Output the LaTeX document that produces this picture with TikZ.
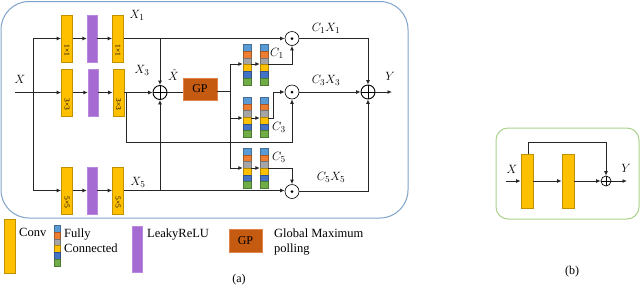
\documentclass[tikz,border=0pt]{standalone}
\usepackage{fontspec}
\setmainfont{Liberation Serif}
\usetikzlibrary{arrows.meta,calc}
\definecolor{convc}{HTML}{FFC000}
\definecolor{convd}{HTML}{BF9000}
\definecolor{purp}{HTML}{A66BD3}
\definecolor{gpc}{HTML}{C55A11}
\definecolor{gpd}{HTML}{E2844A}
\definecolor{fca}{HTML}{5B9BD5}
\definecolor{fcb}{HTML}{ED7D31}
\definecolor{fcc}{HTML}{A5A5A5}
\definecolor{fcd}{HTML}{FFC000}
\definecolor{fce}{HTML}{4472C4}
\definecolor{fcf}{HTML}{70AD47}
\definecolor{boxa}{HTML}{7FA3C8}
\definecolor{boxb}{HTML}{A9D18E}
\newcommand\FCbar[5]{% name, xcenter, ytop, seg height, width
  \foreach \c [count=\i from 0] in {fca,fcb,fcc,fcd,fce,fcf} {
    \filldraw[fill=\c, draw=\c!70!black, line width=0.4pt]
      (#2-#5/2,#3+\i*#4) rectangle ++(#5,#4);
  }
  \node[inner sep=0pt, minimum width=#5 pt, minimum height={6*#4 pt}, anchor=north] (#1) at (#2,#3) {};
}
\begin{document}
\begin{tikzpicture}[x=1pt,y=-1pt,
  convbox/.style={draw=convd, fill=convc, line width=0.6pt, minimum width=11pt, minimum height=47pt, inner sep=0pt},
  relubox/.style={draw=purp!80!white, fill=purp, line width=0.4pt, minimum width=10pt, minimum height=47pt, inner sep=0pt},
  gpbox/.style={draw=gpd, fill=gpc, line width=0.6pt, minimum width=34pt, minimum height=22pt, inner sep=0pt, font=\fontsize{12}{12}\selectfont},
  ln/.style={line width=0.9pt, draw=black!85},
  arr/.style={ln, -{Latex[length=4.5pt,width=4pt]}},
  oplus/.style={circle, draw=black, line width=0.9pt, minimum size=14pt, inner sep=0pt,
    path picture={\draw[black, line width=0.9pt] (path picture bounding box.north) -- (path picture bounding box.south)
      (path picture bounding box.west) -- (path picture bounding box.east);}},
  odot/.style={circle, draw=black, line width=0.6pt, fill=white, minimum size=14pt, inner sep=0pt,
    path picture={\fill[black] (path picture bounding box.center) circle (1.5pt);}},
  ksz/.style={rotate=-90, inner sep=0pt, font=\fontsize{7.5}{7.5}\selectfont},
  lab/.style={inner sep=0pt, font=\fontsize{13}{13}\selectfont},
  txt/.style={inner sep=0pt, anchor=west, align=left, font=\fontsize{12.5}{15}\selectfont}
]
\useasboundingbox (0,0) rectangle (640,285);
% ---------- (a) frame
\draw[boxa, line width=1pt, rounded corners=28pt] (1,1.5) rectangle (408,218);
% ---------- branches
\node[convbox] (k1a) at (67,38.5) {};
\node[relubox] (r1) at (92,38.5) {};
\node[convbox] (k1b) at (118,38.5) {};
\node[convbox] (k3a) at (67,92.5) {};
\node[relubox] (r3) at (93,92.5) {};
\node[convbox] (k3b) at (118.5,92.5) {};
\node[convbox] (k5a) at (67,190.5) {};
\node[relubox] (r5) at (92,190.5) {};
\node[convbox] (k5b) at (118,190.5) {};
\foreach \n/\t in {k1a/1×1,k1b/1×1,k3a/3×3,k3b/3×3,k5a/5×5,k5b/5×5}
  \node[ksz] at ($(\n.south)+(0,-12)$) {\t};
% input
\coordinate (xin) at (15,92.5);
\coordinate (sp1) at (33,38.5);
\coordinate (sp3) at (33,190.5);
\node[lab] at (20,79) {$X$};
\draw[arr] (xin) -- (k3a.west);
\draw[ln] (sp1) -- (sp3);
\draw[arr] (sp1) -- (k1a.west);
\draw[arr] (sp3) -- (k5a.west);
\foreach \a/\b in {k1a/r1,r1/k1b,k3a/r3,r3/k3b,k5a/r5,r5/k5b}
  \draw[arr] (\a) -- (\b);
\node[lab] at (137,15) {$X_1$};
\node[lab] at (142,70) {$X_3$};
\node[lab] at (138,182) {$X_5$};
% sum and GP
\node[oplus] (pl) at (160,92.5) {};
\node[lab] at (173.5,75) {$\hat{X}$};
\node[gpbox] (gp) at (200,89) {GP};
\draw[ln] (pl.east) -- (gp.west |- pl.east);
% circles
\node[odot] (m1) at (292,38.5) {};
\node[odot] (m3) at (292,92) {};
\node[odot] (m5) at (292,191.5) {};
\node[oplus] (fin) at (368,92) {};
% row outputs
\draw[arr] (k1b.east) -- (m1.west);
\draw[arr] (pl |- k1b.east) -- (pl.north);
\draw[arr] (k3b.east) -- (pl.west);
\coordinate (b3) at (126,92.5);
\coordinate (b3a) at (126,142);
\draw[arr] (b3) -- (b3a) -| (m3.south);
\draw[arr] (k5b.east) -- (k5b.east -| m5.west);
\draw[arr] (pl |- k5b.east) -- (pl.south);
% FC bars
\FCbar{fa1}{247}{44}{6.85}{8}
\FCbar{fb1}{264}{44}{6.85}{8}
\FCbar{fa3}{247}{97}{6.7}{8}
\FCbar{fb3}{264}{97}{6.7}{8}
\FCbar{fa5}{247}{148}{6.7}{8}
\FCbar{fb5}{264}{148}{6.7}{8}
\coordinate (gs) at (230,91);
\coordinate (f1in) at (230,64);
\coordinate (f3in) at (230,118);
\coordinate (f5in) at (230,168);
\draw[ln] (gp.east |- gs) -- (gs);
\draw[ln] (f1in) -- (f5in);
\draw[arr] (f1in) -- (fa1.west |- f1in);
\draw[arr] (f3in) -- (fa3.west |- f3in);
\draw[arr] (f5in) -- (fa5.west |- f5in);
\draw[arr] (fa1.east |- f1in) -- (fb1.west |- f1in);
\draw[arr] (fa3.east |- f3in) -- (fb3.west |- f3in);
\draw[arr] (fa5.east |- f5in) -- (fb5.west |- f5in);
\draw[arr] (fb1.east |- f1in) -| (m1.south);
\coordinate (t3) at (273,118);
\draw[arr] (fb3.east |- t3) -- (t3) |- (m3.west);
\draw[arr] (fb5.east |- f5in) -| (m5.north);
\node[lab] at (277,53) {$C_1$};
\node[lab] at (279,127) {$C_3$};
\node[lab] at (279,157) {$C_5$};
\node[lab] at (326,28) {$C_1X_1$};
\node[lab] at (326,80) {$C_3X_3$};
\node[lab] at (331,177) {$C_5X_5$};
% to final sum
\draw[arr] (m1.east) -| (fin.north);
\draw[arr] (m3.east) -- (fin.west);
\draw[arr] (m5.east) -| (fin.south);
\coordinate (yout) at (392,92);
\draw[arr] (fin.east) -- (yout);
\node[lab] at (390,76) {$Y$};
% ---------- legend
\node[convbox, minimum height=54pt] (lconv) at (9.5,246) {};
\node[txt, anchor=north west] at (19,228) {Conv};
\FCbar{lfc}{57}{225}{6.85}{6}
\node[txt, anchor=north west] at (64,229) {Fully\\Connected};
\node[relubox, minimum height=46pt] (lrelu) at (137,249) {};
\node[txt, anchor=north west] at (147,229) {LeakyReLU};
\node[gpbox, minimum height=23pt, minimum width=33pt] (lgp) at (245.5,240.5) {GP};
\node[txt, anchor=north west] at (274,229) {Global Maximum\\polling};
\node[lab, font=\fontsize{12}{12}\selectfont] at (239,280) {(a)};
% ---------- (b)
\draw[boxb, line width=1pt, rounded corners=12pt] (496,128) rectangle (639,219);
\node[convbox, minimum width=12pt, minimum height=54pt] (bc1) at (527,181) {};
\node[convbox, minimum width=12pt, minimum height=54pt] (bc2) at (568,181) {};
\node[oplus, minimum size=10pt, line width=0.7pt] (bpl) at (606,181) {};
\coordinate (bin) at (506,181);
\coordinate (bout) at (627,181);
\coordinate (bsk) at (528,142);
\draw[arr] (bin) -- (bc1.west);
\draw[arr] (bc1.east) -- (bc2.west);
\draw[arr] (bc2.east) -- (bpl.west);
\draw[arr] (bpl.east) -- (bout);
\draw[arr] (bc1.north -| bsk) -- (bsk) -| (bpl.north);
\node[lab] at (512,169) {$X$};
\node[lab] at (626,168) {$Y$};
\node[lab, font=\fontsize{12}{12}\selectfont] at (572,272) {(b)};
\end{tikzpicture}
\end{document}
